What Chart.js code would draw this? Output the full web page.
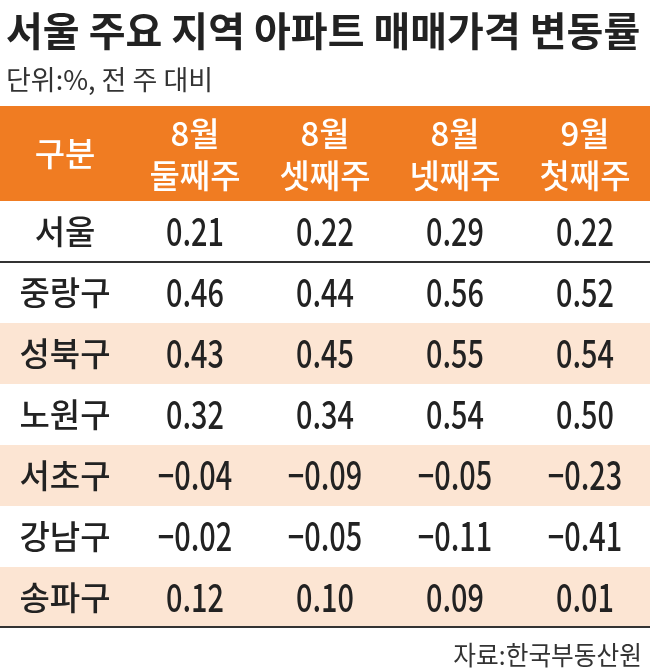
<!DOCTYPE html>
<html><head><meta charset="utf-8">
<script src="https://cdn.jsdelivr.net/npm/chart.js@4"></script>
<style>html,body{margin:0;padding:0;background:#fff}#w{width:650px;height:672px}</style>
</head><body><div id="w"><canvas id="c"></canvas></div>
<script>
const title = '서울 주요 지역 아파트 매매가격 변동률';
const unitNote = '단위:%, 전 주 대비';
const source = '자료:한국부동산원';
const headerLabel = '구분';
const weeks = [['8월','둘째주'],['8월','셋째주'],['8월','넷째주'],['9월','첫째주']];
const regions = ['서울','중랑구','성북구','노원구','서초구','강남구','송파구'];
const week1 = [0.21,0.46,0.43,0.32,-0.04,-0.02,0.12];
const week2 = [0.22,0.44,0.45,0.34,-0.09,-0.05,0.10];
const week3 = [0.29,0.56,0.55,0.54,-0.05,-0.11,0.09];
const week4 = [0.22,0.52,0.54,0.50,-0.23,-0.41,0.01];
const series = [week1,week2,week3,week4];

const fmt = v => (v<0?'\u2212':'') + Math.abs(v).toFixed(2);
const pts = [];
series.forEach((s,ci)=>s.forEach((v,ri)=>pts.push({x:ci+1,y:regions[ri],v})));
regions.forEach(r=>pts.push({x:0,y:r,v:null}));

function txt(ctx,s,x,y,font,color,align,sx){
  ctx.save();ctx.font=font;ctx.fillStyle=color;ctx.textAlign=align||'center';ctx.textBaseline='middle';
  ctx.translate(x,y);ctx.scale(sx||1,1);ctx.fillText(s,0,0);ctx.restore();
}
const tablePlugin={id:'table',
 beforeDatasetsDraw(chart){
  const {ctx,chartArea:a,scales:{x,y}}=chart;
  const F='"Noto Sans CJK KR", sans-serif';
  const band=y.getPixelForValue(1)-y.getPixelForValue(0);
  const hTop=a.top-95;
  ctx.fillStyle='#F07C22';ctx.fillRect(a.left,hTop,a.right-a.left,a.top-hTop);
  txt(ctx,headerLabel,x.getPixelForValue(0),hTop+47,'500 33px '+F,'#fff');
  weeks.forEach((w,i)=>{const px=x.getPixelForValue(i+1);
    txt(ctx,w[0],px,hTop+27,'500 33px '+F,'#fff');
    txt(ctx,w[1],px,hTop+69,'500 33px '+F,'#fff');});
  regions.forEach((r,i)=>{const cy=y.getPixelForValue(i);
    if([2,4,6].includes(i)){ctx.fillStyle='#FCE5D3';ctx.fillRect(a.left,cy-band/2,a.right-a.left,band);}
  });
  ctx.strokeStyle='#333';ctx.lineWidth=2;
  const l1=y.getPixelForValue(0)+band/2;
  ctx.beginPath();ctx.moveTo(a.left,l1);ctx.lineTo(a.right,l1);ctx.moveTo(a.left,a.bottom-1);ctx.lineTo(a.right,a.bottom-1);ctx.stroke();
  pts.forEach(p=>{const px=x.getPixelForValue(p.x),py=y.getPixelForValue(p.y);
    if(p.v===null) txt(ctx,p.y,px,py,'500 33px '+F,'#222');
    else txt(ctx,fmt(p.v),px,py,'500 39px '+F,'#222','center',0.74);
  });
  txt(ctx,title,6,31,'bold 40px '+F,'#222','left',1.0);
  txt(ctx,unitNote,6,80,'27px '+F,'#333','left',1.0);
  txt(ctx,source,642,655,'26px '+F,'#333','right',0.95);
 }};
new Chart(document.getElementById('c'),{
 type:'scatter',
 data:{datasets:[{data:pts,pointRadius:0,showLine:false}]},
 options:{responsive:true,maintainAspectRatio:false,animation:false,
  layout:{padding:{left:0,right:0,top:201,bottom:44}},
  plugins:{legend:{display:false},tooltip:{enabled:false}},
  scales:{x:{type:'linear',min:-0.5,max:4.5,display:false},
          y:{type:'category',labels:regions,offset:true,display:false}}},
 plugins:[tablePlugin]});
</script></body></html>
